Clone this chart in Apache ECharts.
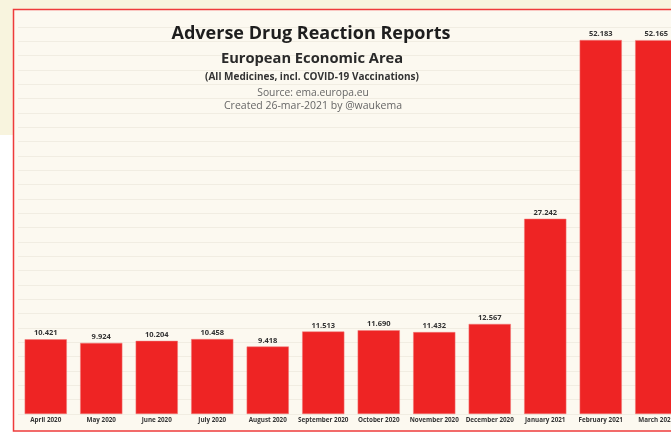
<!DOCTYPE html>
<html>
<head>
<meta charset="utf-8">
<script src="https://cdn.jsdelivr.net/npm/echarts@6/dist/echarts.min.js"></script>
<style>
html,body{margin:0;padding:0;background:#ffffff;}
#chart{width:671px;height:433px;}
</style>
</head>
<body>
<div id="chart"></div>
<script>
const categories = ['April 2020','May 2020','June 2020','July 2020','August 2020','September 2020','October 2020','November 2020','December 2020','January 2021','February 2021','March 2021'];
const reports = [10421, 9924, 10204, 10458, 9418, 11513, 11690, 11432, 12567, 27242, 52183, 52165];
const titleLines = ['Adverse Drug Reaction Reports','European Economic Area','(All Medicines, incl. COVID-19 Vaccinations)','Source: ema.europa.eu','Created 26-mar-2021 by @waukema'];

function fmt(v){ return String(v).replace(/\B(?=(\d{3})+(?!\d))/g, '.'); }

const chart = echarts.init(document.getElementById('chart'), null, {renderer:'canvas'});
const font = 'Open Sans, Noto Sans, sans-serif';
chart.setOption({
  backgroundColor: '#ffffff',
  animation: false,
  graphic: [
    {type:'rect', z:-10, silent:true, shape:{x:0,y:0,width:671,height:9}, style:{fill:'#f8f4de'}},
    {type:'rect', z:-10, silent:true, shape:{x:0,y:0,width:13,height:135}, style:{fill:'#f8f4de'}},
    {type:'rect', z:-9, silent:true, shape:{x:13.5,y:9.5,width:700,height:421.5}, style:{fill:'#fcf9f0', stroke:'#ee3b3b', lineWidth:1.5}}
  ],
  title: [
    {text: titleLines[0], left: 306, top: 20, textAlign:'center', textStyle:{fontFamily:font, fontSize:18, fontWeight:'bold', color:'#1e1e1e'}},
    {text: titleLines[1], left: 307, top: 46, textAlign:'center', textStyle:{fontFamily:font, fontSize:14.7, fontWeight:'bold', color:'#2a2a2a'}},
    {text: titleLines[2], left: 307, top: 67, textAlign:'center', textStyle:{fontFamily:font, fontSize:10, fontWeight:'bold', color:'#333'}},
    {text: titleLines[3], left: 308, top: 83, textAlign:'center', textStyle:{fontFamily:font, fontSize:10.3, fontWeight:'normal', color:'#666'}},
    {text: titleLines[4], left: 308, top: 96, textAlign:'center', textStyle:{fontFamily:font, fontSize:10.5, fontWeight:'normal', color:'#666'}}
  ],
  grid: {left: 18, right: -13, top: 27, bottom: 19, outerBoundsMode: 'none'},
  xAxis: {
    type: 'category',
    data: categories,
    axisLine: {show:false},
    axisTick: {show:false},
    axisLabel: {fontFamily:font, fontSize:6.3, fontWeight:'bold', color:'#333', margin:3, interval:0}
  },
  yAxis: {
    type: 'value',
    min: 0, max: 54000, interval: 2000,
    axisLine:{show:false}, axisTick:{show:false}, axisLabel:{show:false},
    splitLine:{show:true, lineStyle:{color:'#f1ede2', width:1}}
  },
  series: [{
    type: 'bar',
    data: reports,
    barCategoryGap: '24%',
    itemStyle: {color:'#ee2424', borderColor:'#f07a7a', borderWidth:0.5},
    label: {show:true, position:'top', distance:2, formatter: p => fmt(p.value), fontFamily:font, fontSize:7.5, fontWeight:'bold', color:'#333'}
  }]
});
</script>
</body>
</html>
